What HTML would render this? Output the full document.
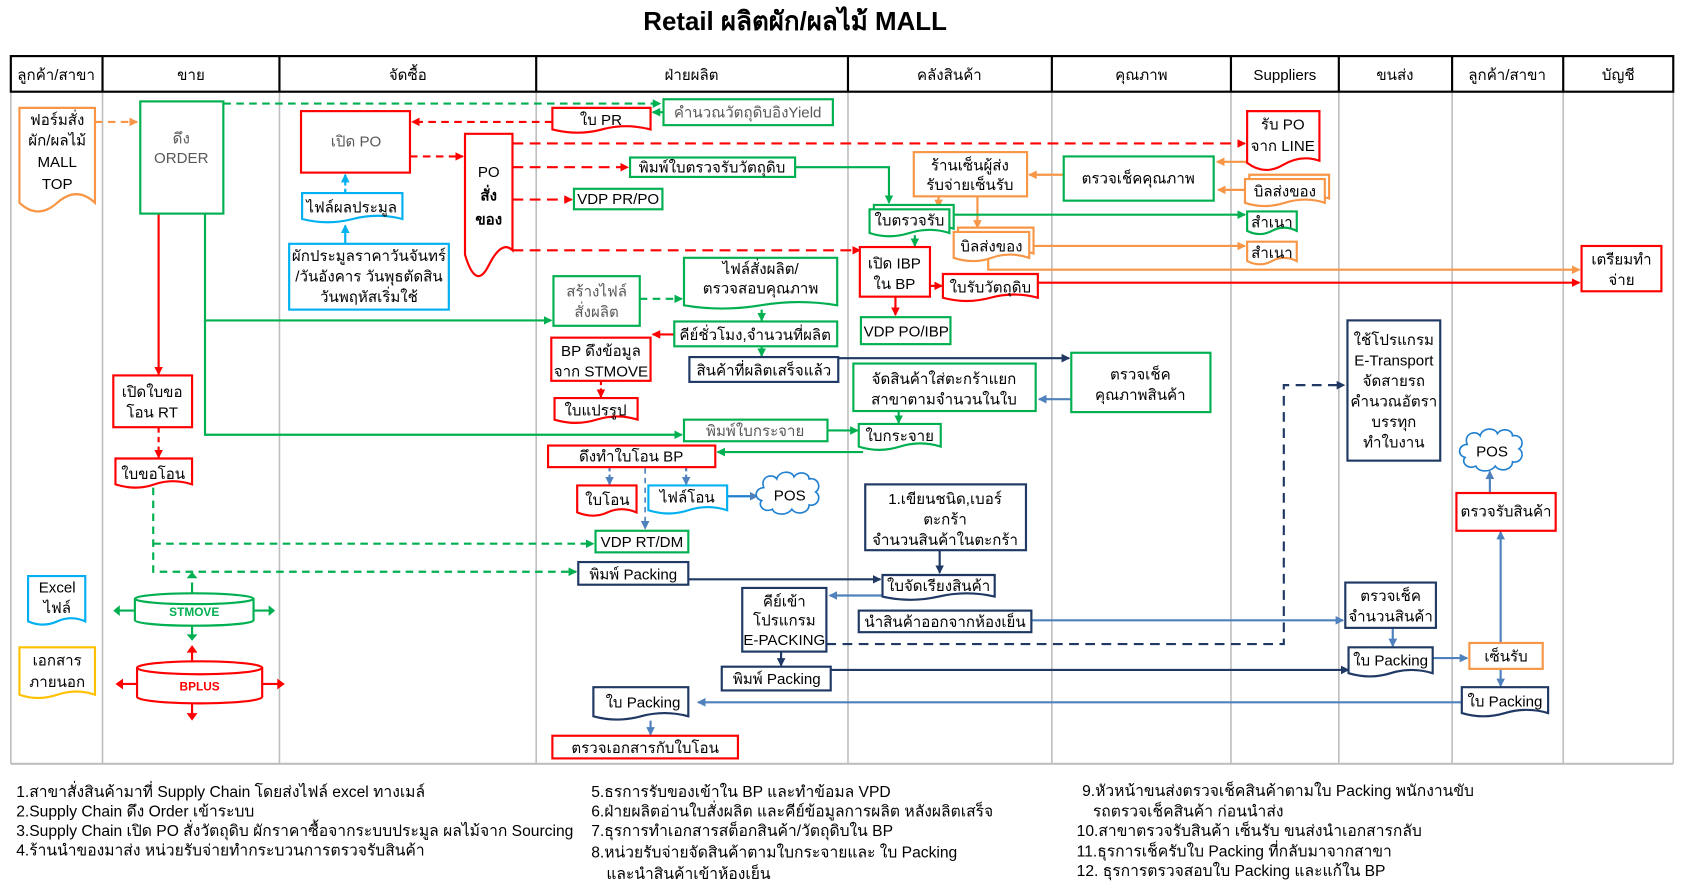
<!DOCTYPE html>
<html><head><meta charset="utf-8">
<style>
html,body{margin:0;padding:0;background:#fff;}
svg{display:block;}
text{font-family:"Liberation Sans","DejaVu Sans",sans-serif;font-size:14px;fill:#000;}
.t{text-anchor:middle;}
.g{fill:#595959;}
.f text{font-size:14.5px;}
</style></head><body>
<svg width="1683" height="883" viewBox="0 0 1560 818.5" xmlns="http://www.w3.org/2000/svg">
<defs>
<marker id="ar" markerWidth="8" markerHeight="8" refX="7" refY="4" orient="auto" markerUnits="userSpaceOnUse"><path d="M0,0L8,4L0,8Z" fill="#ff0000"/></marker>
<marker id="ag" markerWidth="8" markerHeight="8" refX="7" refY="4" orient="auto" markerUnits="userSpaceOnUse"><path d="M0,0L8,4L0,8Z" fill="#00b050"/></marker>
<marker id="ao" markerWidth="8" markerHeight="8" refX="7" refY="4" orient="auto" markerUnits="userSpaceOnUse"><path d="M0,0L8,4L0,8Z" fill="#f79646"/></marker>
<marker id="an" markerWidth="8" markerHeight="8" refX="7" refY="4" orient="auto" markerUnits="userSpaceOnUse"><path d="M0,0L8,4L0,8Z" fill="#1f3864"/></marker>
<marker id="ab" markerWidth="8" markerHeight="8" refX="7" refY="4" orient="auto" markerUnits="userSpaceOnUse"><path d="M0,0L8,4L0,8Z" fill="#4f81bd"/></marker>
<marker id="as" markerWidth="8" markerHeight="8" refX="7" refY="4" orient="auto" markerUnits="userSpaceOnUse"><path d="M0,0L8,4L0,8Z" fill="#00b0f0"/></marker>
</defs>

<text x="737" y="28" class="t" style="font-size:24px;font-weight:bold">Retail ผลิตผัก/ผลไม้ MALL</text>

<g stroke="#bfbfbf" stroke-width="1.5">
<line x1="10" y1="85" x2="10" y2="708"/><line x1="95" y1="85" x2="95" y2="708"/><line x1="259" y1="85" x2="259" y2="708"/><line x1="497" y1="85" x2="497" y2="708"/><line x1="786" y1="85" x2="786" y2="708"/><line x1="975" y1="85" x2="975" y2="708"/><line x1="1141" y1="85" x2="1141" y2="708"/><line x1="1241" y1="85" x2="1241" y2="708"/><line x1="1346" y1="85" x2="1346" y2="708"/><line x1="1449" y1="85" x2="1449" y2="708"/><line x1="1551" y1="85" x2="1551" y2="708"/>
<line x1="10" y1="708" x2="1551" y2="708" stroke-width="2"/>
</g>
<g stroke="#000" stroke-width="2" fill="none">
<rect x="10" y="52" width="1541" height="33"/>
<line x1="95" y1="52" x2="95" y2="85"/><line x1="259" y1="52" x2="259" y2="85"/><line x1="497" y1="52" x2="497" y2="85"/><line x1="786" y1="52" x2="786" y2="85"/><line x1="975" y1="52" x2="975" y2="85"/><line x1="1141" y1="52" x2="1141" y2="85"/><line x1="1241" y1="52" x2="1241" y2="85"/><line x1="1346" y1="52" x2="1346" y2="85"/><line x1="1449" y1="52" x2="1449" y2="85"/>
</g>
<g style="font-size:15px">
<text x="52" y="74" class="t">ลูกค้า/สาขา</text><text x="177" y="74" class="t">ขาย</text><text x="378" y="74" class="t">จัดซื้อ</text><text x="641" y="74" class="t">ฝ่ายผลิต</text><text x="880" y="74" class="t">คลังสินค้า</text><text x="1058" y="74" class="t">คุณภาพ</text><text x="1191" y="74" class="t">Suppliers</text><text x="1293" y="74" class="t">ขนส่ง</text><text x="1397" y="74" class="t">ลูกค้า/สาขา</text><text x="1500" y="74" class="t">บัญชี</text>
</g>

<g fill="none" stroke-width="2">
<path d="M88,113H127" stroke="#f79646" stroke-dasharray="7,5" marker-end="url(#ao)"/>
<path d="M207,96H612" stroke="#00b050" stroke-dasharray="7,5" marker-end="url(#ag)"/>
<path d="M615,104H605" stroke="#00b050" marker-end="url(#ag)"/>
<path d="M512,113H382" stroke="#ff0000" stroke-dasharray="7,5" marker-end="url(#ar)"/>
<path d="M380,145H429" stroke="#ff0000" stroke-dasharray="7,5" marker-end="url(#ar)"/>
<path d="M320,179V162" stroke="#00b0f0" stroke-dasharray="4,3" marker-end="url(#as)"/>
<path d="M320,226V209" stroke="#00b0f0" marker-end="url(#as)"/>
<path d="M475,133H1154" stroke="#ff0000" stroke-dasharray="10,6" marker-end="url(#ar)"/>
<path d="M475,155H582" stroke="#ff0000" stroke-dasharray="10,6" marker-end="url(#ar)"/>
<path d="M475,185H530" stroke="#ff0000" stroke-dasharray="10,6" marker-end="url(#ar)"/>
<path d="M475,232H797" stroke="#ff0000" stroke-dasharray="10,6" marker-end="url(#ar)"/>
<path d="M737,155H824V188" stroke="#00b050" marker-end="url(#ag)"/>
<path d="M1156,150H1128" stroke="#f79646" marker-end="url(#ao)"/>
<path d="M986,162H954" stroke="#f79646" marker-end="url(#ao)"/>
<path d="M1155,176H1129" stroke="#f79646" marker-end="url(#ao)"/>
<path d="M870,182V192" stroke="#f79646" marker-end="url(#ao)"/>
<path d="M906,182V211" stroke="#f79646" marker-end="url(#ao)"/>
<path d="M882,199H1154" stroke="#00b050" marker-end="url(#ag)"/>
<path d="M958,228H1154" stroke="#f79646" marker-end="url(#ao)"/>
<path d="M916,240V250H1464" stroke="#f79646" marker-end="url(#ao)"/>
<path d="M848,218V228" stroke="#00b050" marker-end="url(#ag)"/>
<path d="M862,265H873" stroke="#ff0000" marker-end="url(#ar)"/>
<path d="M962,262H1464" stroke="#ff0000" marker-end="url(#ar)"/>
<path d="M830,275V292" stroke="#ff0000" marker-end="url(#ar)"/>
<path d="M190,198V297H511" stroke="#00b050" marker-end="url(#ag)"/>
<path d="M190,297V403H632" stroke="#00b050" marker-end="url(#ag)"/>
<path d="M593,277H632" stroke="#00b050" stroke-dasharray="7,5" marker-end="url(#ag)"/>
<path d="M706,287V297" stroke="#00b050" marker-end="url(#ag)"/>
<path d="M625,310H605" stroke="#ff0000" marker-end="url(#ar)"/>
<path d="M706,321V330" stroke="#00b050" marker-end="url(#ag)"/>
<path d="M777,332H991" stroke="#1f3864" marker-end="url(#an)"/>
<path d="M993,370H963" stroke="#4f81bd" marker-end="url(#ab)"/>
<path d="M833,381V392" stroke="#00b050" marker-end="url(#ag)"/>
<path d="M557,353V368" stroke="#ff0000" stroke-dasharray="4,3" marker-end="url(#ar)"/>
<path d="M767,399H795" stroke="#00b050" marker-end="url(#ag)"/>
<path d="M800,419H665" stroke="#00b050" marker-end="url(#ag)"/>
<path d="M147,198V347" stroke="#ff0000" marker-end="url(#ar)"/>
<path d="M147,396V424" stroke="#ff0000" stroke-dasharray="5,4" marker-end="url(#ar)"/>
<path d="M142,452V530H534" stroke="#00b050" stroke-dasharray="7,5" marker-end="url(#ag)"/>
<path d="M142,504H550" stroke="#00b050" stroke-dasharray="7,5" marker-end="url(#ag)"/>
<path d="M565,433V449" stroke="#4f81bd" stroke-dasharray="4,3" marker-end="url(#ab)"/>
<path d="M636,433V449" stroke="#4f81bd" stroke-dasharray="4,3" marker-end="url(#ab)"/>
<path d="M598,425V490" stroke="#4f81bd" stroke-dasharray="5,4" stroke-width="1.5" marker-end="url(#ab)"/>
<path d="M674,460H702" stroke="#1f7fd0" marker-end="url(#ab)"/>
<path d="M638,537H816" stroke="#1f3864" marker-end="url(#an)"/>
<path d="M871,510V531" stroke="#1f3864" marker-end="url(#an)"/>
<path d="M818,552H769" stroke="#4f81bd" marker-end="url(#ab)"/>
<path d="M956,575H1245" stroke="#4f81bd" marker-end="url(#ab)"/>
<path d="M766,597H1190V357H1246" stroke="#1f3864" stroke-dasharray="9,6" marker-end="url(#an)"/>
<path d="M724,604V617" stroke="#1f3864" marker-end="url(#an)"/>
<path d="M770,621H1250" stroke="#1f3864" marker-end="url(#an)"/>
<path d="M1291,582V599" stroke="#4f81bd" marker-end="url(#ab)"/>
<path d="M1328,610H1360" stroke="#4f81bd" marker-end="url(#ab)"/>
<path d="M1391,596V493" stroke="#4f81bd" marker-end="url(#ab)"/>
<path d="M1381,457V437" stroke="#4f81bd" marker-end="url(#ab)"/>
<path d="M1391,620V636" stroke="#4f81bd" marker-end="url(#ab)"/>
<path d="M1355,651H647" stroke="#4f81bd" marker-end="url(#ab)"/>
<path d="M603,668V681" stroke="#4f81bd" marker-end="url(#ab)"/>
<path d="M178,550V540M178,580V591M125,566H108M235,566H252" stroke="#00b050"/>
<path d="M178,614V602M178,652V665M127,634H111M243,634H260" stroke="#ff0000"/>
</g>
<g>
<path d="M173,536l5,-6l5,6zM173,588l5,6l5,-6zM111,561l-6,5l6,5zM249,561l6,5l-6,5z" fill="#00b050"/>
<path d="M173,605l5,-7l5,7zM173,661l5,7l5,-7zM114,629l-7,5l7,5zM257,629l7,5l-7,5z" fill="#ff0000"/>
</g>

<g fill="#fff" stroke-width="2">
<path d="M18,100h70v88q-17,-16 -35,0t-35,0z" stroke="#f79646"/>
<rect x="130" y="94" width="77" height="104" stroke="#00b050"/>
<rect x="615" y="92" width="157" height="24" stroke="#00b050"/>
<path d="M512,100h91v20q-23,-6 -45,0t-46,0z" stroke="#ff0000"/>
<rect x="279" y="103" width="101" height="57" stroke="#ff0000"/>
<path d="M431,124h44v108q-10,-10 -22,14t-22,-10z" stroke="#ff0000"/>
<path d="M280,179h93v24q-23,-6 -46,0t-47,0z" stroke="#00b0f0"/>
<rect x="268" y="226" width="148" height="61" stroke="#00b0f0"/>
<rect x="584" y="146" width="153" height="18" stroke="#00b050"/>
<rect x="532" y="175" width="82" height="19" stroke="#00b050"/>
<rect x="847" y="141" width="105" height="41" stroke="#f79646"/>
<rect x="986" y="145" width="139" height="41" stroke="#00b050"/>
<path d="M1156,103h67v46q-17,-6 -34,4t-33,-2z" stroke="#ff0000"/>
<path d="M1158,162h74v22q-18,-6 -37,0t-37,0z" stroke="#f79646"/>
<path d="M1154,166h74v22q-18,-6 -37,0t-37,0z" stroke="#f79646"/>
<path d="M810,190h74v22q-18,-6 -37,0t-37,0z" stroke="#00b050"/>
<path d="M806,194h74v22q-18,-6 -37,0t-37,0z" stroke="#00b050"/>
<path d="M1156,196h46v18q-12,-6 -23,0t-23,0z" stroke="#00b050"/>
<path d="M888,211h70v24q-18,-6 -35,0t-35,0z" stroke="#f79646"/>
<path d="M884,215h70v24q-18,-6 -35,0t-35,0z" stroke="#f79646"/>
<path d="M1156,224h46v18q-12,-6 -23,0t-23,0z" stroke="#f79646"/>
<rect x="1466" y="228" width="74" height="42" stroke="#ff0000"/>
<rect x="797" y="229" width="65" height="46" stroke="#ff0000"/>
<path d="M874,254h88v22q-22,-6 -44,0t-44,0z" stroke="#ff0000"/>
<rect x="798" y="294" width="83" height="25" stroke="#00b050"/>
<rect x="513" y="256" width="80" height="46" stroke="#00b050"/>
<path d="M634,239h142v44q-35,-6 -71,0t-71,0z" stroke="#00b050"/>
<rect x="625" y="298" width="151" height="23" stroke="#00b050"/>
<rect x="511" y="313" width="92" height="40" stroke="#ff0000"/>
<rect x="639" y="331" width="138" height="23" stroke="#1f3864"/>
<rect x="993" y="327" width="129" height="55" stroke="#00b050"/>
<rect x="791" y="337" width="169" height="44" stroke="#00b050"/>
<path d="M514,369h77v20q-19,-6 -38,0t-39,0z" stroke="#ff0000"/>
<path d="M796,393h76v21q-19,-6 -38,0t-38,0z" stroke="#00b050"/>
<rect x="634" y="389" width="133" height="20" stroke="#00b050"/>
<rect x="508" y="413" width="155" height="20" stroke="#ff0000"/>
<rect x="105" y="348" width="73" height="48" stroke="#ff0000"/>
<path d="M107,425h71v24q-18,-6 -35,0t-36,0z" stroke="#ff0000"/>
<path d="M535,450h55v25q-14,-6 -27,0t-28,0z" stroke="#ff0000"/>
<path d="M601,450h73v23q-18,-6 -36,0t-37,0z" stroke="#00b0f0"/>
<rect x="552" y="492" width="86" height="20" stroke="#00b050"/>
<rect x="536" y="521" width="102" height="21" stroke="#1f3864"/>
<rect x="802" y="449" width="149" height="61" stroke="#1f3864"/>
<path d="M818,533h104v20q-26,-6 -52,0t-52,0z" stroke="#1f3864"/>
<rect x="688" y="545" width="78" height="59" stroke="#1f3864"/>
<rect x="796" y="566" width="160" height="20" stroke="#1f3864"/>
<rect x="1247" y="540" width="84" height="42" stroke="#1f3864"/>
<rect x="1249" y="297" width="86" height="130" stroke="#1f3864"/>
<rect x="669" y="618" width="101" height="22" stroke="#1f3864"/>
<path d="M1250,600h78v24q-20,-6 -39,0t-39,0z" stroke="#1f3864"/>
<rect x="1362" y="596" width="68" height="24" stroke="#f79646"/>
<rect x="1350" y="457" width="92" height="35" stroke="#ff0000"/>
<path d="M1355,637h80v24q-20,-6 -40,0t-40,0z" stroke="#1f3864"/>
<path d="M550,637h88v27q-22,-6 -44,0t-44,0z" stroke="#1f3864"/>
<rect x="512" y="682" width="172" height="21" stroke="#ff0000"/>
<path d="M26,534h53v42q-13,-6 -26,0t-27,0z" stroke="#00b0f0"/>
<path d="M18,600h70v44q-17,-6 -35,0t-35,0z" stroke="#ffc000"/>
<path d="M125,555v20a55,5 0 0 0 110,0v-20" stroke="#00b050"/>
<ellipse cx="180" cy="555" rx="55" ry="5" stroke="#00b050"/>
<path d="M127,619v27a58,6 0 0 0 116,0v-27" stroke="#ff0000"/>
<ellipse cx="185" cy="619" rx="58" ry="6" stroke="#ff0000"/>
<path d="M708,452c-4,-10 8,-14 12,-8c2,-8 14,-8 16,-2c4,-6 14,-4 14,2c8,-2 12,8 6,12c6,4 2,14 -6,12c0,8 -12,10 -16,4c-4,6 -16,6 -18,0c-8,4 -14,-4 -10,-8c-8,-2 -6,-12 2,-12z" stroke="#1f7fd0" stroke-width="1.5"/>
<path d="M1360,412c-4,-10 8,-14 12,-8c2,-8 14,-8 16,-2c4,-6 14,-4 14,2c8,-2 12,8 6,12c6,4 2,14 -6,12c0,8 -12,10 -16,4c-4,6 -16,6 -18,0c-8,4 -14,-4 -10,-8c-8,-2 -6,-12 2,-12z" stroke="#1f7fd0" stroke-width="1.5"/>
</g>

<g>
<text x="53" y="116" class="t">ฟอร์มสั่ง</text><text x="53" y="135" class="t">ผัก/ผลไม้</text><text x="53" y="155" class="t">MALL</text><text x="53" y="175" class="t">TOP</text>
<text x="168" y="133" class="t g">ดึง</text><text x="168" y="151" class="t g">ORDER</text>
<text x="693" y="109" class="t g">คำนวณวัตถุดิบอิงYield</text>
<text x="557" y="116" class="t">ใบ PR</text>
<text x="330" y="136" class="t g">เปิด PO</text>
<text x="453" y="164" class="t">PO</text><text x="453" y="186" class="t" style="font-weight:bold">สั่ง</text><text x="453" y="208" class="t" style="font-weight:bold">ของ</text>
<text x="326" y="197" class="t">ไฟล์ผลประมูล</text>
<text x="342" y="242" class="t">ผักประมูลราคาวันจันทร์</text><text x="342" y="261" class="t">/วันอังคาร วันพุธตัดสิน</text><text x="342" y="280" class="t">วันพฤหัสเริ่มใช้</text>
<text x="660" y="160" class="t">พิมพ์ใบตรวจรับวัตถุดิบ</text>
<text x="573" y="189" class="t">VDP PR/PO</text>
<text x="899" y="158" class="t">ร้านเซ็นผู้ส่ง</text><text x="899" y="176" class="t">รับจ่ายเซ็นรับ</text>
<text x="1055" y="170" class="t">ตรวจเช็คคุณภาพ</text>
<text x="1189" y="120" class="t">รับ PO</text><text x="1189" y="140" class="t">จาก LINE</text>
<text x="1191" y="182" class="t">บิลส่งของ</text>
<text x="843" y="209" class="t">ใบตรวจรับ</text>
<text x="1179" y="211" class="t">สำเนา</text>
<text x="919" y="233" class="t">บิลส่งของ</text>
<text x="1179" y="239" class="t">สำเนา</text>
<text x="1503" y="245" class="t">เตรียมทำ</text><text x="1503" y="264" class="t">จ่าย</text>
<text x="829" y="249" class="t">เปิด IBP</text><text x="829" y="268" class="t">ใน BP</text>
<text x="918" y="271" class="t">ใบรับวัตถุดิบ</text>
<text x="840" y="312" class="t">VDP PO/IBP</text>
<text x="553" y="275" class="t g">สร้างไฟล์</text><text x="553" y="294" class="t g">สั่งผลิต</text>
<text x="705" y="254" class="t">ไฟล์สั่งผลิต/</text><text x="705" y="272" class="t">ตรวจสอบคุณภาพ</text>
<text x="700" y="315" class="t">คีย์ชั่วโมง,จำนวนที่ผลิต</text>
<text x="557" y="330" class="t">BP ดึงข้อมูล</text><text x="557" y="349" class="t">จาก STMOVE</text>
<text x="708" y="348" class="t">สินค้าที่ผลิตเสร็จแล้ว</text>
<text x="1057" y="352" class="t">ตรวจเช็ค</text><text x="1057" y="371" class="t">คุณภาพสินค้า</text>
<text x="875" y="356" class="t">จัดสินค้าใส่ตะกร้าแยก</text><text x="875" y="375" class="t">สาขาตามจำนวนในใบ</text>
<text x="552" y="385" class="t">ใบแปรรูป</text>
<text x="834" y="409" class="t">ใบกระจาย</text>
<text x="700" y="404" class="t g">พิมพ์ใบกระจาย</text>
<text x="585" y="428" class="t">ดึงทำใบโอน BP</text>
<text x="141" y="368" class="t">เปิดใบขอ</text><text x="141" y="387" class="t">โอน RT</text>
<text x="142" y="444" class="t">ใบขอโอน</text>
<text x="563" y="468" class="t">ใบโอน</text>
<text x="637" y="466" class="t">ไฟล์โอน</text>
<text x="732" y="464" class="t">POS</text>
<text x="595" y="507" class="t">VDP RT/DM</text>
<text x="587" y="537" class="t">พิมพ์ Packing</text>
<text x="876" y="467" class="t">1.เขียนชนิด,เบอร์</text><text x="876" y="486" class="t">ตะกร้า</text><text x="876" y="505" class="t">จำนวนสินค้าในตะกร้า</text>
<text x="870" y="548" class="t">ใบจัดเรียงสินค้า</text>
<text x="727" y="562" class="t">คีย์เข้า</text><text x="727" y="580" class="t">โปรแกรม</text><text x="727" y="598" class="t">E-PACKING</text>
<text x="876" y="581" class="t">นำสินค้าออกจากห้องเย็น</text>
<text x="1289" y="557" class="t">ตรวจเช็ค</text><text x="1289" y="576" class="t">จำนวนสินค้า</text>
<text x="1292" y="320" class="t">ใช้โปรแกรม</text><text x="1292" y="339" class="t">E-Transport</text><text x="1292" y="358" class="t">จัดสายรถ</text><text x="1292" y="377" class="t">คำนวณอัตรา</text><text x="1292" y="396" class="t">บรรทุก</text><text x="1292" y="415" class="t">ทำใบงาน</text>
<text x="720" y="634" class="t">พิมพ์ Packing</text>
<text x="1289" y="617" class="t">ใบ Packing</text>
<text x="1396" y="613" class="t">เซ็นรับ</text>
<text x="1396" y="479" class="t">ตรวจรับสินค้า</text>
<text x="1383" y="423" class="t">POS</text>
<text x="1395" y="655" class="t">ใบ Packing</text>
<text x="596" y="656" class="t">ใบ Packing</text>
<text x="598" y="698" class="t">ตรวจเอกสารกับใบโอน</text>
<text x="53" y="549" class="t">Excel</text><text x="53" y="568" class="t">ไฟล์</text>
<text x="53" y="617" class="t">เอกสาร</text><text x="53" y="637" class="t">ภายนอก</text>
<text x="180" y="571" class="t" style="fill:#00b050;font-weight:bold;font-size:11px">STMOVE</text>
<text x="185" y="640" class="t" style="fill:#ff0000;font-weight:bold;font-size:11px">BPLUS</text>
</g>

<g class="f">
<text x="15" y="739">1.สาขาสั่งสินค้ามาที่  Supply Chain โดยส่งไฟล์ excel ทางเมล์</text>
<text x="15" y="757">2.Supply Chain ดึง Order เข้าระบบ</text>
<text x="15" y="775">3.Supply Chain เปิด PO สั่งวัตถุดิบ  ผักราคาซื้อจากระบบประมูล  ผลไม้จาก Sourcing</text>
<text x="15" y="793">4.ร้านนำของมาส่ง  หน่วยรับจ่ายทำกระบวนการตรวจรับสินค้า</text>
<text x="548" y="739">5.ธรการรับของเข้าใน BP และทำข้อมล VPD</text>
<text x="548" y="757">6.ฝ่ายผลิตอ่านใบสั่งผลิต และคีย์ข้อมูลการผลิต หลังผลิตเสร็จ</text>
<text x="548" y="775">7.ธุรการทำเอกสารสต็อกสินค้า/วัตถุดิบใน BP</text>
<text x="548" y="795">8.หน่วยรับจ่ายจัดสินค้าตามใบกระจายและ ใบ Packing</text>
<text x="562" y="815">และนำสินค้าเข้าห้องเย็น</text>
<text x="1003" y="738">9.หัวหน้าขนส่งตรวจเช็คสินค้าตามใบ  Packing  พนักงานขับ</text>
<text x="1013" y="757">รถตรวจเช็คสินค้า ก่อนนำส่ง</text>
<text x="998" y="775">10.สาขาตรวจรับสินค้า  เซ็นรับ ขนส่งนำเอกสารกลับ</text>
<text x="998" y="794">11.ธุรการเช็ครับใบ Packing   ที่กลับมาจากสาขา</text>
<text x="998" y="812">12. ธุรการตรวจสอบใบ Packing และแก้ใน BP</text>
</g>
</svg>
</body></html>
